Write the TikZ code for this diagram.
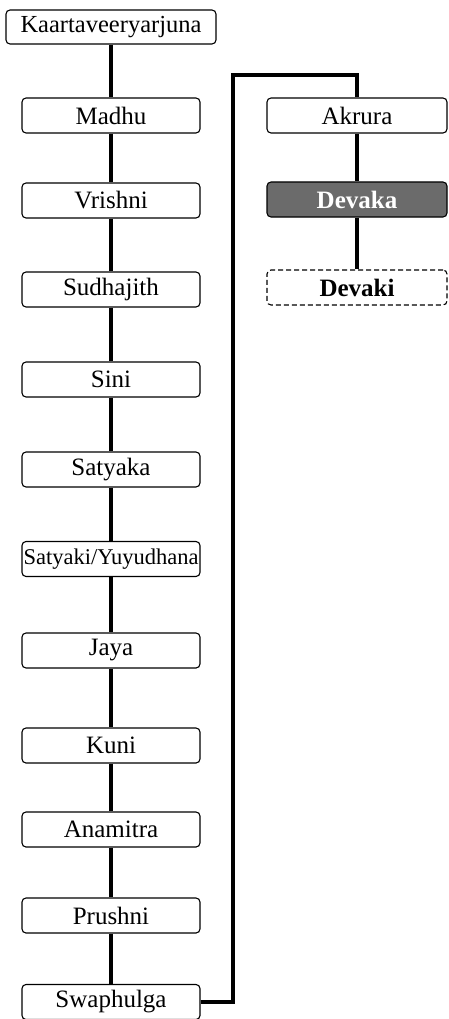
\documentclass[tikz,border=0pt]{standalone}
\usepackage{fontspec}
\setmainfont{Liberation Serif}

\tikzset{
  person/.style={draw, rounded corners=4pt, line width=1.1pt, fill=white,
    minimum width=178pt, minimum height=35pt, inner sep=0pt,
    font=\fontsize{25}{28}\selectfont},
  root/.style={person, minimum width=210pt, minimum height=34pt,
    font=\fontsize{24.5}{28}\selectfont},
  highlit/.style={person, minimum width=180pt, fill=black!58, text=white,
    font=\fontsize{25}{28}\selectfont\bfseries},
  unsure/.style={person, minimum width=180pt, dash pattern=on 5pt off 3pt,
    font=\fontsize{25}{28}\selectfont\bfseries},
  link/.style={line width=4.5pt}
}

\begin{document}
\begin{tikzpicture}[x=1pt,y=-1pt]
    % page
    \useasboundingbox (0,0) rectangle (448,1019);
    % left column
    \node[root] (kaart) at (111,27) {Kaartaveeryarjuna};
    \node[person] (madhu) at (111,115.5) {Madhu};
    \node[person] (vrishni) at (111,200.5) {Vrishni};
    \node[person] (sudhajith) at (111,289.5) {Sudhajith};
    \node[person] (sini) at (111,379.5) {Sini};
    \node[person] (satyaka) at (111,469.5) {Satyaka};
    \node[person, font=\fontsize{22.5}{25}\selectfont] (satyaki) at (111,559) {Satyaki/Yuyudhana};
    \node[person] (jaya) at (111,650.5) {Jaya};
    \node[person] (kuni) at (111,745.5) {Kuni};
    \node[person] (anamitra) at (111,829.5) {Anamitra};
    \node[person] (prushni) at (111,915.5) {Prushni};
    \node[person] (swaphulga) at (111,1002) {Swaphulga};
    % right column
    \node[person, minimum width=180pt] (akrura) at (357,115.5) {Akrura};
    \node[highlit] (devaka) at (357,199.5) {Devaka};
    \node[unsure] (devaki) at (357,287.5) {Devaki};
    % links
    \foreach \a/\b in {kaart/madhu, madhu/vrishni, vrishni/sudhajith,
        sudhajith/sini, sini/satyaka, satyaka/satyaki, satyaki/jaya,
        jaya/kuni, kuni/anamitra, anamitra/prushni, prushni/swaphulga,
        akrura/devaka, devaka/devaki}
      \draw[link] (\a.south) -- (\b.north);
    % jump to the other column
    \coordinate (bend) at (233,75);
    \draw[link, line join=miter] (swaphulga.east) -| (bend) -| (akrura.north);
\end{tikzpicture}
\end{document}
